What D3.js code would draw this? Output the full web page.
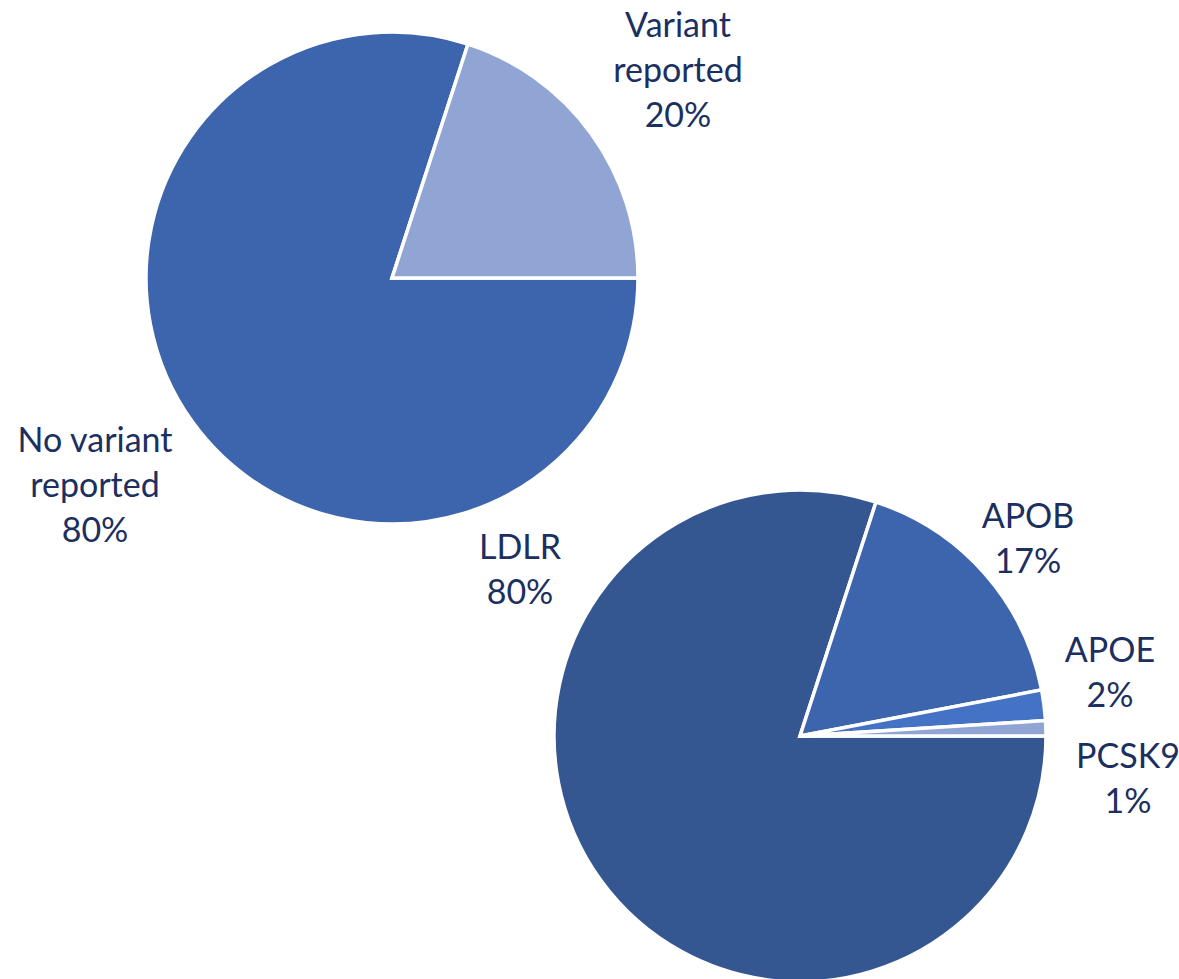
<!DOCTYPE html>
<html>
<head>
<meta charset="utf-8">
<script src="https://cdn.jsdelivr.net/npm/d3@7"></script>
<style>
  html, body { margin: 0; padding: 0; background: #ffffff; }
  svg { display: block; }
</style>
</head>
<body>
<svg id="chart" width="1179" height="979"></svg>
<script>
// Variant reporting overall
const overallNames = ["No variant reported", "Variant reported"];
const overallValues = [80, 20];
const overallColors = ["#3D65AD", "#91A5D4"];

// Gene breakdown among reported variants
const geneNames = ["LDLR", "APOB", "APOE", "PCSK9"];
const geneValues = [80, 17, 2, 1];
const geneColors = ["#345792", "#3D65AD", "#4472C4", "#91A5D4"];

// Label line breaks and anchor offsets from each pie's centre
const overallLabelLines = [["No variant", "reported", "80%"], ["Variant", "reported", "20%"]];
const overallLabelOffsets = [[-297, 174], [286, -241]];
const geneLabelLines = [["LDLR", "80%"], ["APOB", "17%"], ["APOE", "2%"], ["PCSK9", "1%"]];
const geneLabelOffsets = [[-280, -177], [228, -208], [310, -74], [328, 32]];

const svg = d3.select("#chart");
const radius = 246;
const lineHeight = 45;

function drawPie(cx, cy, values, colors, lines, offsets) {
  const pie = d3.pie().sort(null).value(d => d)
    .startAngle(Math.PI / 2).endAngle(Math.PI / 2 + 2 * Math.PI);
  const arc = d3.arc().innerRadius(0).outerRadius(radius);
  const g = svg.append("g").attr("transform", `translate(${cx},${cy})`);
  g.selectAll("path")
    .data(pie(values))
    .join("path")
    .attr("d", arc)
    .attr("fill", (d, i) => colors[i])
    .attr("stroke", "#ffffff")
    .attr("stroke-width", 3.5)
    .attr("stroke-linejoin", "miter");

  const labels = g.selectAll("text.lbl")
    .data(lines)
    .join("text")
    .attr("class", "lbl")
    .attr("x", (d, i) => offsets[i][0])
    .attr("y", (d, i) => offsets[i][1])
    .attr("text-anchor", "middle")
    .attr("font-family", "Lato, 'Open Sans', sans-serif")
    .attr("font-size", 34)
    .attr("fill", "#1B2F60");
  labels.each(function(d, i) {
    const t = d3.select(this);
    d.forEach((line, k) => {
      t.append("tspan")
        .attr("x", offsets[i][0])
        .attr("dy", k === 0 ? 0 : lineHeight)
        .text(line);
    });
  });
}

drawPie(392, 278, overallValues, overallColors, overallLabelLines, overallLabelOffsets);
drawPie(800, 736, geneValues, geneColors, geneLabelLines, geneLabelOffsets);
</script>
</body>
</html>
